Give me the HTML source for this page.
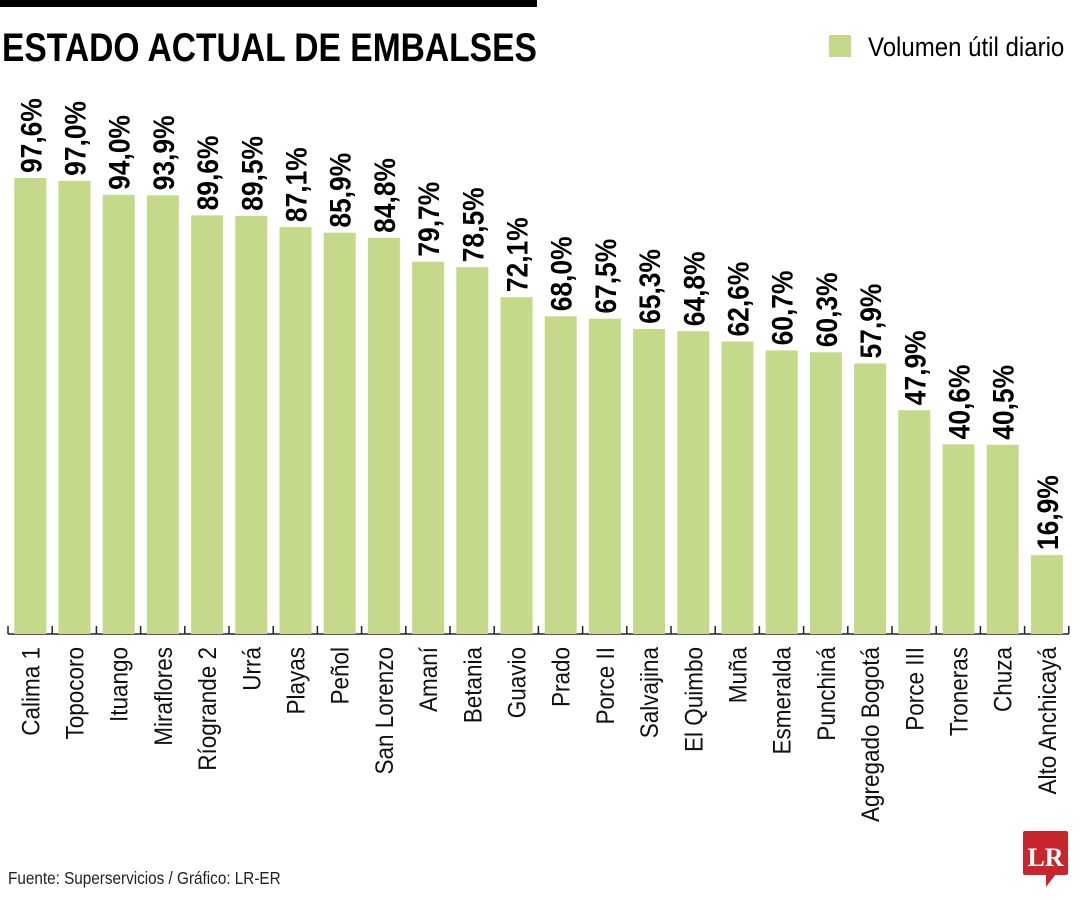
<!DOCTYPE html>
<html><head><meta charset="utf-8"><style>body{margin:0;background:#fff}svg{display:block}text{font-family:"Liberation Sans Narrow","Liberation Sans",sans-serif}</style></head>
<body>
<svg id="c" width="1080" height="900">
<rect x="0" y="0" width="537" height="7" fill="#000"/>
<text x="2" y="61" font-size="40" font-weight="bold" transform="translate(2,0) scale(0.84,1) translate(-2,0)">ESTADO ACTUAL DE EMBALSES</text>
<rect x="829" y="35" width="22" height="22" fill="#c5d98a"/>
<text x="868" y="56" font-size="27" transform="translate(868,0) scale(0.89,1) translate(-868,0)">Volumen útil diario</text>
<text x="8" y="884" font-size="18" transform="translate(8,0) scale(0.85,1) translate(-8,0)" fill="#222">Fuente: Superservicios / Gráfico: LR-ER</text>
<g>
<rect x="1023" y="831" width="45" height="44" rx="2" fill="#c8262c"/>
<polygon points="1046,874 1056,874 1046,887" fill="#c8262c"/>
<text x="1045.5" y="866" font-size="26" font-weight="bold" fill="#fff" text-anchor="middle" style="font-family:'Liberation Serif',serif">LR</text>
</g>
<g id="bars"></g>
</svg>
<script>
const categories=["Calima 1","Topocoro","Ituango","Miraflores","Ríogrande 2","Urrá","Playas","Peñol","San Lorenzo","Amaní","Betania","Guavio","Prado","Porce II","Salvajina","El Quimbo","Muña","Esmeralda","Punchiná","Agregado Bogotá","Porce III","Troneras","Chuza","Alto Anchicayá"];
const values=[97.6,97.0,94.0,93.9,89.6,89.5,87.1,85.9,84.8,79.7,78.5,72.1,68.0,67.5,65.3,64.8,62.6,60.7,60.3,57.9,47.9,40.6,40.5,16.9];
const valueLabels=["97,6%","97,0%","94,0%","93,9%","89,6%","89,5%","87,1%","85,9%","84,8%","79,7%","78,5%","72,1%","68,0%","67,5%","65,3%","64,8%","62,6%","60,7%","60,3%","57,9%","47,9%","40,6%","40,5%","16,9%"];
const NS="http://www.w3.org/2000/svg";
const g=document.getElementById('bars');
const base=634,k=4.672,step=44.2,x0=8,bw=32;
const xs=i=>x0+i*step;
const ys=v=>base-v*k;
function mk(t,a){const e=document.createElementNS(NS,t);for(const n in a)e.setAttribute(n,a[n]);return e;}
const ax=mk('line',{x1:x0,y1:base,x2:xs(categories.length),y2:base,stroke:'#222','stroke-width':1.5});


g.appendChild(ax);
for(let i=0;i<=categories.length;i++){
 const t=mk('line',{x1:xs(i),y1:base-8,x2:xs(i),y2:base,stroke:'#222','stroke-width':1.5});
 
 
 g.appendChild(t);
}
values.forEach((v,i)=>{
 const cx=xs(i)+step/2+0.2;
 const r=mk('rect',{x:cx-bw/2,y:ys(v),width:bw,height:v*k,fill:'#c5d98a'});
 
 
 g.appendChild(r);
 const vl=mk('text',{'font-size':30,'font-weight':'bold',transform:`translate(${cx+11},${ys(v)-5}) rotate(-90) scale(0.88,1)`});
 vl.textContent=valueLabels[i];
 
 
 g.appendChild(vl);
 const cl=mk('text',{'font-size':25,'text-anchor':'end',fill:'#111',transform:`translate(${cx+9},${base+13}) rotate(-90) scale(0.9,1)`});
 cl.textContent=categories[i];
 
 
 g.appendChild(cl);
});
</script>
</body></html>
